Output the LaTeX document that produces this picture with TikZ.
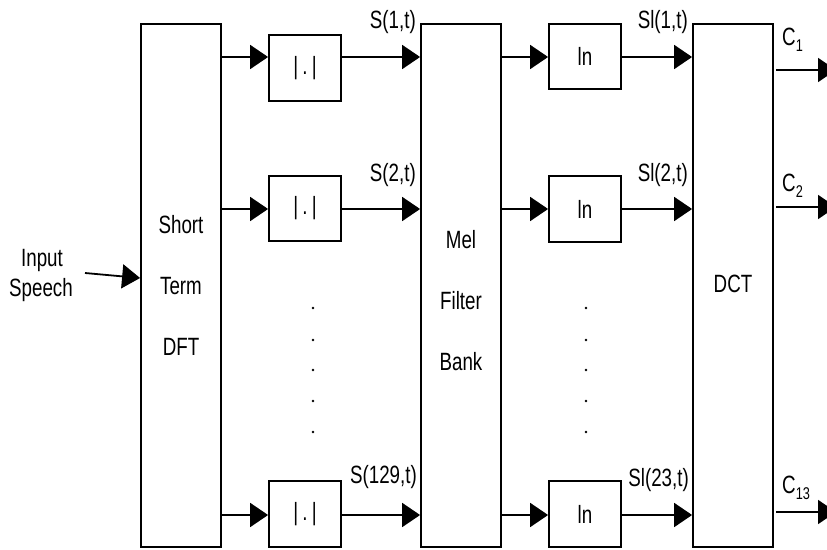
\documentclass[tikz,border=0pt]{standalone}
\usepackage{fontspec}
\setmainfont{Liberation Sans}[FakeStretch=0.75]
\usetikzlibrary{arrows.meta}
\newcommand{\subtxt}[1]{\raisebox{-6pt}{\fontsize{17}{17}\selectfont #1}}
\begin{document}
\begin{tikzpicture}[x=1pt,y=-1pt,
  blk/.style={draw,line width=1.8pt,minimum width=80pt,inner sep=0pt},
  smallbox/.style={draw,line width=1.8pt,minimum width=72pt,inner sep=0pt,font=\fontsize{25}{28}\selectfont},
  txt/.style={inner sep=0pt,font=\fontsize{25}{28}\selectfont},
  stack/.style={inner sep=0pt,align=center,font=\fontsize{25}{61}\selectfont},
  conn/.style={line width=1.8pt,-{Triangle[length=18pt,width=24pt]}},
  dotmark/.style={fill,circle,inner sep=0pt,minimum size=2.6pt}]
\clip (0,0) rectangle (827,549);
\useasboundingbox (0,0) rectangle (827,549);
% big blocks
\node[blk,minimum height=523pt] (dft) at (181,285.5) {};
\node[blk,minimum height=523pt] (mel) at (461,285.5) {};
\node[blk,minimum height=523pt] (dct) at (733,285.5) {};
\node[stack] (dfttxt) at (181,285) {Short\\Term\\DFT};
\node[stack] (meltxt) at (461,301) {Mel\\Filter\\Bank};
\node[txt] (dcttxt) at (733,284) {DCT};
% abs boxes
\node[smallbox,minimum height=66pt] (abs1) at (305,68) {|\,.\,|};
\node[smallbox,minimum height=65pt] (abs2) at (305,208.5) {|\,.\,|};
\node[smallbox,minimum height=66pt] (abs3) at (305,514) {|\,.\,|};
% ln boxes
\node[smallbox,minimum height=65pt] (ln1) at (585,56.5) {ln};
\node[smallbox,minimum height=66pt] (ln2) at (585,209) {ln};
\node[smallbox,minimum height=66pt] (ln3) at (585,514) {ln};
% row coordinates
\coordinate (r1) at (0,57);
\coordinate (r2) at (0,209);
\coordinate (r3) at (0,515);
% connectors
\draw[conn] (dft.east |- r1) -- (abs1.west |- r1);
\draw[conn] (dft.east |- r2) -- (abs2.west |- r2);
\draw[conn] (dft.east |- r3) -- (abs3.west |- r3);
\draw[conn] (abs1.east |- r1) -- (mel.west |- r1);
\draw[conn] (abs2.east |- r2) -- (mel.west |- r2);
\draw[conn] (abs3.east |- r3) -- (mel.west |- r3);
\draw[conn] (mel.east |- r1) -- (ln1.west |- r1);
\draw[conn] (mel.east |- r2) -- (ln2.west |- r2);
\draw[conn] (mel.east |- r3) -- (ln3.west |- r3);
\draw[conn] (ln1.east |- r1) -- (dct.west |- r1);
\draw[conn] (ln2.east |- r2) -- (dct.west |- r2);
\draw[conn] (ln3.east |- r3) -- (dct.west |- r3);
% outputs
\coordinate (o1s) at (776,70);  \coordinate (o1e) at (836,70);
\coordinate (o2s) at (776,207); \coordinate (o2e) at (836,207);
\coordinate (o3s) at (776,512); \coordinate (o3e) at (836,512);
\draw[conn] (o1s) -- (o1e);
\draw[conn] (o2s) -- (o2e);
\draw[conn] (o3s) -- (o3e);
% input
\node[txt] (inp1) at (42,260) {Input};
\node[txt] (inp2) at (41,290) {Speech};
\coordinate (ins) at (85,273);
\draw[conn] (ins) -- (dft.west |- 0,278);
% labels
\node[txt,anchor=east] (l1) at (416,22) {S(1,t)};
\node[txt,anchor=east] (l2) at (416,175) {S(2,t)};
\node[txt,anchor=east] (l3) at (417,477) {S(129,t)};
\node[txt,anchor=east] (m1) at (688,22) {Sl(1,t)};
\node[txt,anchor=east] (m2) at (688,175) {Sl(2,t)};
\node[txt,anchor=east] (m3) at (689,480) {Sl(23,t)};
\node[txt,anchor=west] (c1) at (782,40) {C\subtxt{1}};
\node[txt,anchor=west] (c2) at (782,186) {C\subtxt{2}};
\node[txt,anchor=west] (c3) at (782,488) {C\subtxt{13}};
% dots
\foreach \yy in {308,340,370,401,432} {
  \node[dotmark] at (313,\yy) {};
  \node[dotmark] at (586,\yy) {};
}
\end{tikzpicture}
\end{document}
